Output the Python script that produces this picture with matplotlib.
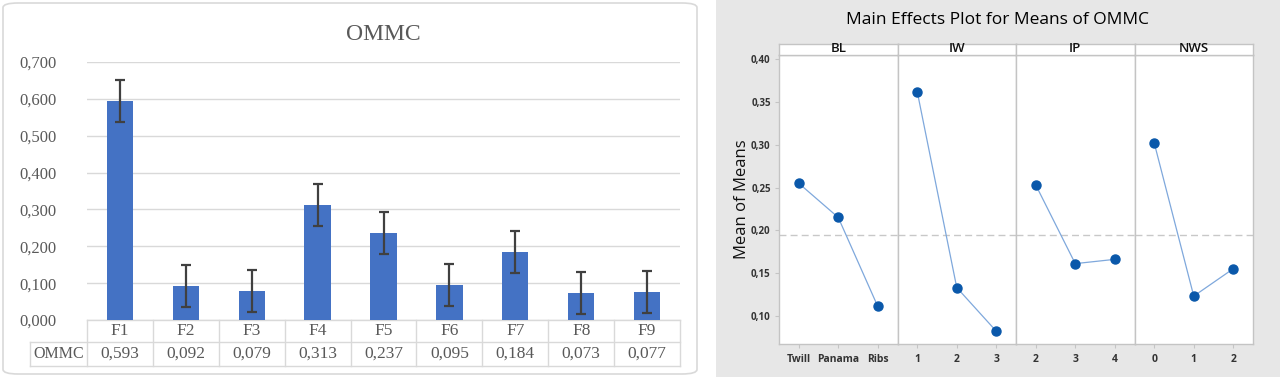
import matplotlib
matplotlib.use('Agg')
import matplotlib.pyplot as plt
from matplotlib.patches import FancyBboxPatch, Rectangle
from matplotlib.transforms import blended_transform_factory
import numpy as np

# left chart data (Excel bar chart + data table)
formulations = ['F1', 'F2', 'F3', 'F4', 'F5', 'F6', 'F7', 'F8', 'F9']
ommc = [0.593, 0.092, 0.079, 0.313, 0.237, 0.095, 0.184, 0.073, 0.077]
ommc_err = [0.057, 0.057, 0.057, 0.057, 0.057, 0.057, 0.057, 0.057, 0.057]
bar_yticks = [0.0, 0.1, 0.2, 0.3, 0.4, 0.5, 0.6, 0.7]

# right chart data (Minitab main effects)
factors = ['BL', 'IW', 'IP', 'NWS']
levels = [['Twill', 'Panama', 'Ribs'], ['1', '2', '3'], ['2', '3', '4'], ['0', '1', '2']]
means = [[0.255, 0.215, 0.111],
         [0.362, 0.133, 0.082],
         [0.253, 0.161, 0.166],
         [0.302, 0.123, 0.155]]
grand_mean = 0.194
me_yticks = [0.10, 0.15, 0.20, 0.25, 0.30, 0.35, 0.40]

W, H = 1280, 377
fig = plt.figure(figsize=(W / 100, H / 100), dpi=100)


def fx(px):
    return px / W


def fy(py):
    return 1 - py / H


# background boxes (behind all axes)
fig.patches.append(FancyBboxPatch((fx(3), fy(374)), fx(694), fy(3) - fy(374),
                                  boxstyle='round,pad=0,rounding_size=0.012',
                                  transform=fig.transFigure, facecolor='white',
                                  edgecolor='#d9d9d9', linewidth=1.2, zorder=-10))
fig.patches.append(Rectangle((fx(716), 0), 1 - fx(716), 1, transform=fig.transFigure,
                             facecolor='#e7e7e7', edgecolor='none', zorder=-10))

# ---- left: bar chart ----
serif = 'Liberation Serif'
gray_txt = '#595959'
ax = fig.add_axes([fx(87), fy(320), fx(680) - fx(87), fy(62) - fy(320)])
ax.patch.set_alpha(0)
x = np.arange(len(formulations))
ax.bar(x, ommc, width=0.4, color='#4472c4', zorder=3)
ax.errorbar(x, ommc, yerr=ommc_err, fmt='none', ecolor='#404040', elinewidth=1.6,
            capsize=3.5, capthick=1.6, zorder=4)
ax.set_xlim(-0.5, 8.5)
ax.set_ylim(0, 0.7)
ax.set_yticks(bar_yticks)
ax.set_yticklabels([f'{v:.3f}'.replace('.', ',') for v in bar_yticks],
                   fontfamily=serif, fontsize=12, color=gray_txt)
ax.tick_params(axis='y', length=0, pad=22)
ax.set_xticks([])
ax.grid(axis='y', color='#d9d9d9', linewidth=1, zorder=0)
for s in ax.spines.values():
    s.set_visible(False)
ax.set_title('OMMC', fontfamily=serif, fontsize=17, color=gray_txt, pad=16)

# data table under the axis
tr = blended_transform_factory(ax.transData, ax.transAxes)
ah = fy(62) - fy(320)
r1 = -(22 / H) / ah
r2 = -(46 / H) / ah
hdr_left = -0.5 - 57 * 9 / 593
lc = '#d9d9d9'
ax.plot([-0.5, 8.5], [0, 0], transform=tr, color=lc, lw=1, clip_on=False)
ax.plot([hdr_left, 8.5], [r1, r1], transform=tr, color=lc, lw=1, clip_on=False)
ax.plot([hdr_left, 8.5], [r2, r2], transform=tr, color=lc, lw=1, clip_on=False)
ax.plot([hdr_left, hdr_left], [r1, r2], transform=tr, color=lc, lw=1, clip_on=False)
for i in range(len(formulations) + 1):
    ax.plot([i - 0.5, i - 0.5], [0, r2], transform=tr, color=lc, lw=1, clip_on=False)
for i, (f, v) in enumerate(zip(formulations, ommc)):
    ax.text(i, r1 / 2, f, transform=tr, ha='center', va='center',
            fontfamily=serif, fontsize=12.5, color=gray_txt)
    ax.text(i, (r1 + r2) / 2, f'{v:.3f}'.replace('.', ','), transform=tr, ha='center',
            va='center', fontfamily=serif, fontsize=12.5, color=gray_txt)
ax.text((hdr_left - 0.5) / 2, (r1 + r2) / 2, 'OMMC', transform=tr, ha='center',
        va='center', fontfamily=serif, fontsize=11.5, color=gray_txt)

# ---- right: main effects plot ----
sans = 'Open Sans'
frame = '#c4c4c4'
left, right = 779, 1253
top_strip, top_data, bottom = 44, 55, 344
pw = (right - left) / 4
for k, fac in enumerate(factors):
    a = fig.add_axes([fx(left + k * pw), fy(bottom), fx(pw), fy(top_data) - fy(bottom)])
    lv = np.arange(1, 4)
    a.axhline(grand_mean, color='#c8c8c8', lw=1, ls=(0, (5, 3)), zorder=1)
    a.plot(lv, means[k], color='#7fa8dc', lw=0.9, zorder=2)
    a.plot(lv, means[k], 'o', color='#0a58aa', markersize=6.5, zorder=3)
    a.set_xlim(0.5, 3.5)
    a.set_ylim(0.067, 0.405)
    a.set_xticks(lv)
    a.set_xticklabels(levels[k], fontfamily=sans, fontsize=7.5, fontweight='bold',
                      color='#333333')
    a.tick_params(axis='x', length=3, color=frame, pad=4)
    a.set_yticks(me_yticks)
    if k == 0:
        a.set_yticklabels([f'{v:.2f}'.replace('.', ',') for v in me_yticks],
                          fontfamily=sans, fontsize=7, fontweight='bold', color='#333333')
        a.tick_params(axis='y', length=3, color=frame, pad=3)
        a.set_ylabel('Mean of Means', fontfamily=sans, fontsize=12, color='#111111',
                     labelpad=1)
    else:
        a.tick_params(axis='y', length=0, labelleft=False)
    for s in a.spines.values():
        s.set_color(frame)
        s.set_linewidth(1)
    # strip header
    st = fig.add_axes([fx(left + k * pw), fy(top_data), fx(pw), fy(top_strip) - fy(top_data)])
    st.set_xticks([])
    st.set_yticks([])
    for s in st.spines.values():
        s.set_color(frame)
        s.set_linewidth(1)
    st.text(0.5, 0.0, fac, transform=st.transAxes, ha='center', va='bottom',
            fontfamily=sans, fontsize=9.5, fontweight='semibold', color='#111111')

fig.text(fx(997), fy(20), 'Main Effects Plot for Means of OMMC', ha='center', va='center',
         fontfamily=sans, fontsize=12.5, color='#000000')

plt.savefig('out.png', dpi=100)
